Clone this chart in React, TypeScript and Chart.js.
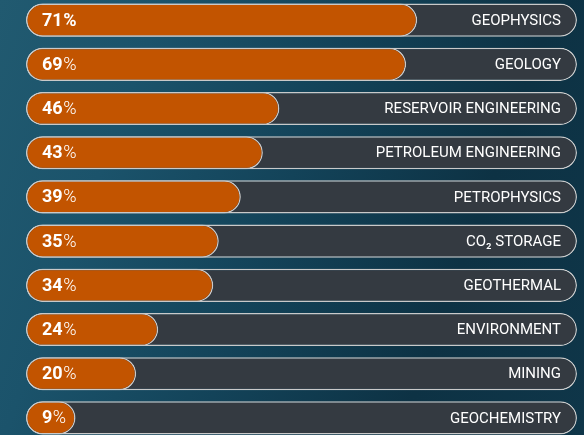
import React, { useEffect, useRef } from "react";
import { Chart, registerables } from "chart.js";

Chart.register(...registerables);

const categories = [
  "GEOPHYSICS",
  "GEOLOGY",
  "RESERVOIR ENGINEERING",
  "PETROLEUM ENGINEERING",
  "PETROPHYSICS",
  "CO₂ STORAGE",
  "GEOTHERMAL",
  "ENVIRONMENT",
  "MINING",
  "GEOCHEMISTRY",
];
const values = [71, 69, 46, 43, 39, 35, 34, 24, 20, 9];
const trackValues = [100, 100, 100, 100, 100, 100, 100, 100, 100, 100];
const scaleMax = 100;

const ORANGE = "#c25400";
const TRACK = "#343a41";
const BORDER = "#c9c9c9";

const labelPlugin = {
  id: "barLabels",
  afterDatasetsDraw(chart: any) {
    const { ctx, chartArea } = chart;
    const meta = chart.getDatasetMeta(0);
    ctx.save();
    ctx.fillStyle = "#ffffff";
    ctx.textBaseline = "middle";
    meta.data.forEach((el: any, i: number) => {
      const y = el.y + 1;
      const num = String(values[i]);
      ctx.textAlign = "left";
      ctx.font = "bold 18px Roboto";
      const x0 = chartArea.left + 16;
      ctx.fillText(num, x0, y);
      const w = ctx.measureText(num).width;
      ctx.font = (i === 0 ? "bold " : "300 ") + "18px Roboto";
      ctx.fillText("%", x0 + w + 0.5, y);
      ctx.textAlign = "right";
      ctx.font = "400 15px Roboto";
      ctx.fillText(categories[i], chartArea.right - 16, y);
    });
    ctx.restore();
  },
};

export default function App() {
  const ref = useRef<HTMLCanvasElement | null>(null);

  useEffect(() => {
    document.body.style.margin = "0";
    document.body.style.overflow = "hidden";
    if (!ref.current) return;
    const common = {
      borderColor: BORDER,
      borderWidth: 1.5,
      borderRadius: 17,
      borderSkipped: false,
      categoryPercentage: 1,
      barPercentage: 0.75,
      grouped: false,
    };
    const chart = new Chart(ref.current, {
      type: "bar",
      data: {
        labels: categories,
        datasets: [
          { data: values, backgroundColor: ORANGE, ...common } as any,
          { data: trackValues, backgroundColor: TRACK, ...common } as any,
        ],
      },
      options: {
        indexAxis: "y",
        animation: false,
        responsive: false,
        maintainAspectRatio: false,
        layout: { padding: { left: 26, right: 7, top: 0, bottom: 0 } },
        scales: {
          x: { display: false, min: 0, max: scaleMax },
          y: { display: false },
        },
        plugins: {
          legend: { display: false },
          tooltip: { enabled: false },
        },
      },
      plugins: [labelPlugin],
    });
    return () => chart.destroy();
  }, []);

  return (
    <div
      style={{
        position: "fixed",
        left: 0,
        top: 0,
        width: 584,
        height: 435,
        overflow: "hidden",
        background:
          "linear-gradient(110deg, #215a70 0%, #1b536b 22%, #134359 48%, #0d3244 75%, #0f3649 100%)",
      }}
    >
      <canvas
        ref={ref}
        width={584}
        height={442}
        style={{ position: "absolute", left: 0, top: -2, width: 584, height: 442 }}
      />
    </div>
  );
}
